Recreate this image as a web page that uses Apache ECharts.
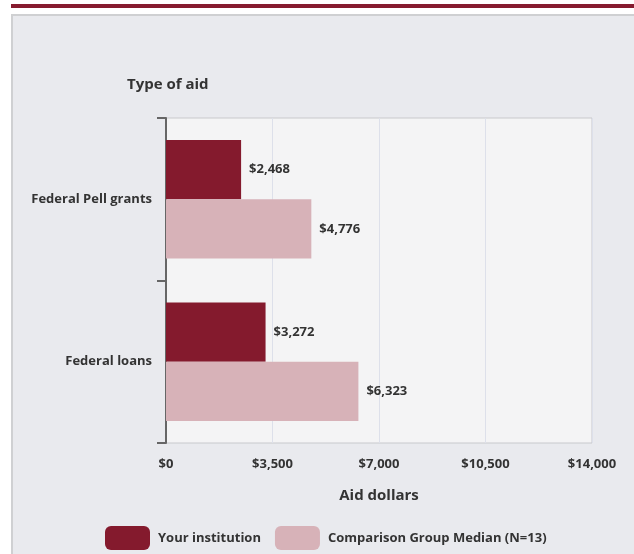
<!DOCTYPE html>
<html>
<head>
<meta charset="utf-8">
<script src="https://cdn.jsdelivr.net/npm/echarts@6/dist/echarts.min.js"></script>
<style>
  html, body { margin: 0; padding: 0; background: #fff; }
  #chart { width: 634px; height: 554px; }
</style>
</head>
<body>
<div id="chart"></div>
<script>
var categories = ['Federal Pell grants', 'Federal loans'];
var yourInstitution = [2468, 3272];
var comparisonMedian = [4776, 6323];
var seriesNames = ['Your institution', 'Comparison Group Median (N=13)'];

var FONT = 'Open Sans';
var DARK = '#841a2d';
var LIGHT = '#d7b2b8';

function money(v) {
    return '$' + v.toString().replace(/\B(?=(\d{3})+(?!\d))/g, ',');
}

function pageInit() {
    var myChart = echarts.init(document.getElementById('chart'));
    var labelStyle = {
        show: true,
        position: 'right',
        distance: 8,
        fontFamily: FONT,
        fontWeight: 'bold',
        fontSize: 13,
        color: '#333',
        formatter: function (p) { return money(p.value); }
    };
    var option = {
        animation: false,
        textStyle: { fontFamily: FONT },
        graphic: [
            { type: 'rect', shape: { x: 11, y: 4, width: 623, height: 4 }, style: { fill: '#861b2f' }, z: -10 },
            { type: 'rect', shape: { x: 12, y: 15, width: 640, height: 560 }, style: { fill: '#e9eaee', stroke: '#cfd0d2', lineWidth: 2 }, z: -10 },
            { type: 'text', left: 127, top: 77, style: { text: 'Type of aid', font: 'bold 15px ' + FONT, fill: '#333' } }
        ],
        legend: {
            left: 100,
            top: 521,
            itemWidth: 45,
            itemHeight: 24,
            itemGap: 14,
            icon: 'roundRect',
            textStyle: { fontFamily: FONT, fontWeight: 'bold', fontSize: 13, color: '#333', padding: [0, 0, 0, 3] },
            data: seriesNames
        },
        grid: {
            left: 166, top: 118, right: 42, bottom: 111,
            show: true,
            backgroundColor: '#f4f4f5',
            borderColor: '#c8c9cc',
            borderWidth: 1
        },
        xAxis: {
            type: 'value',
            min: 0, max: 14000, interval: 3500,
            name: 'Aid dollars',
            nameLocation: 'middle',
            nameGap: 45,
            nameTextStyle: { fontFamily: FONT, fontWeight: 'bold', fontSize: 15, color: '#333' },
            axisLine: { show: false },
            axisTick: { show: false },
            axisLabel: { margin: 15, fontFamily: FONT, fontWeight: 'bold', fontSize: 13, color: '#333', formatter: money },
            splitLine: { lineStyle: { color: '#dde0ea' } }
        },
        yAxis: {
            type: 'category',
            inverse: true,
            data: categories,
            axisLine: { show: true, lineStyle: { color: '#666', width: 2 } },
            axisTick: { show: true, length: 9, lineStyle: { color: '#666', width: 2 } },
            axisLabel: { margin: 14, fontFamily: FONT, fontWeight: 'bold', fontSize: 13, color: '#333' }
        },
        series: [
            {
                name: seriesNames[0], type: 'bar', data: yourInstitution,
                barGap: '0%', barCategoryGap: '27%',
                itemStyle: { color: DARK },
                label: labelStyle
            },
            {
                name: seriesNames[1], type: 'bar', data: comparisonMedian,
                barGap: '0%', barCategoryGap: '27%',
                itemStyle: { color: LIGHT },
                label: labelStyle
            }
        ]
    };
    myChart.setOption(option);
}

window.onload = function () {
    pageInit();
};
</script>
</body>
</html>
